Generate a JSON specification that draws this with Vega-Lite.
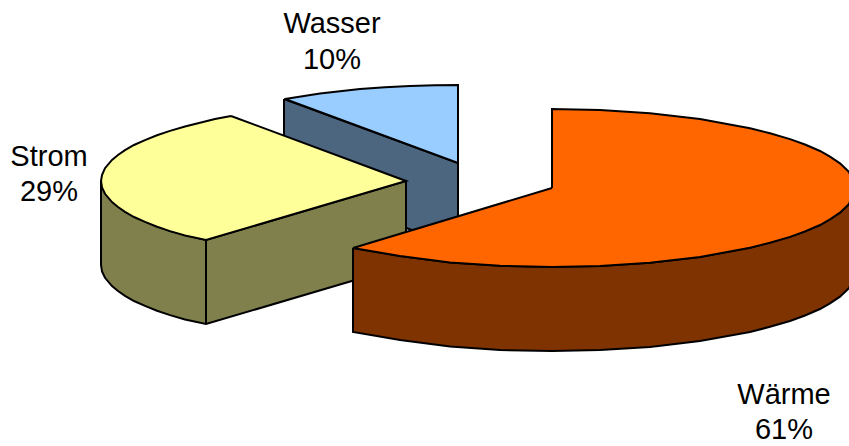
{
"$schema":"https://vega.github.io/schema/vega-lite/v6.json",
"width":849,"height":446,"autosize":{"type":"fit","contains":"padding"},"padding":0,
"background":"white","view":{"stroke":null},
"datasets":{
"shapes":[
{"part":"Wasser Seite","i":0,"x":284,"y":99},{"part":"Wasser Seite","i":1,"x":458,"y":163},{"part":"Wasser Seite","i":2,"x":458,"y":247},{"part":"Wasser Seite","i":3,"x":284,"y":183},{"part":"Wasser Seite","i":4,"x":284,"y":99},
{"part":"Wasser Oben","i":0,"x":285,"y":99},{"part":"Wasser Oben","i":1,"x":320,"y":93.5},{"part":"Wasser Oben","i":2,"x":360,"y":89.1},{"part":"Wasser Oben","i":3,"x":385,"y":87.3},{"part":"Wasser Oben","i":4,"x":410,"y":86},{"part":"Wasser Oben","i":5,"x":435,"y":85.2},{"part":"Wasser Oben","i":6,"x":458,"y":85},{"part":"Wasser Oben","i":7,"x":458,"y":163},{"part":"Wasser Oben","i":8,"x":285,"y":99},
{"part":"Strom Seite","i":0,"x":101,"y":181},{"part":"Strom Seite","i":1,"x":125,"y":211.8},{"part":"Strom Seite","i":2,"x":170,"y":231.1},{"part":"Strom Seite","i":3,"x":206,"y":240},{"part":"Strom Seite","i":4,"x":406,"y":181},{"part":"Strom Seite","i":5,"x":406,"y":265},{"part":"Strom Seite","i":6,"x":206,"y":324},{"part":"Strom Seite","i":7,"x":185,"y":319.5},{"part":"Strom Seite","i":8,"x":170,"y":315.1},{"part":"Strom Seite","i":9,"x":157,"y":310.8},{"part":"Strom Seite","i":10,"x":145,"y":305.9},{"part":"Strom Seite","i":11,"x":134,"y":301},{"part":"Strom Seite","i":12,"x":125,"y":295.8},{"part":"Strom Seite","i":13,"x":118,"y":291},{"part":"Strom Seite","i":14,"x":112,"y":286.1},{"part":"Strom Seite","i":15,"x":105,"y":277.8},{"part":"Strom Seite","i":16,"x":102,"y":271.5},{"part":"Strom Seite","i":17,"x":101,"y":265},{"part":"Strom Seite","i":18,"x":101,"y":181},
{"part":"Strom Kante","i":0,"x":206,"y":240},{"part":"Strom Kante","i":1,"x":206,"y":324},
{"part":"Strom Oben","i":0,"x":231,"y":116},{"part":"Strom Oben","i":1,"x":215,"y":119},{"part":"Strom Oben","i":2,"x":200,"y":122.7},{"part":"Strom Oben","i":3,"x":185,"y":126.5},{"part":"Strom Oben","i":4,"x":170,"y":130.9},{"part":"Strom Oben","i":5,"x":157,"y":135.2},{"part":"Strom Oben","i":6,"x":145,"y":140.1},{"part":"Strom Oben","i":7,"x":134,"y":145},{"part":"Strom Oben","i":8,"x":125,"y":150.2},{"part":"Strom Oben","i":9,"x":118,"y":155},{"part":"Strom Oben","i":10,"x":112,"y":159.9},{"part":"Strom Oben","i":11,"x":105,"y":168.2},{"part":"Strom Oben","i":12,"x":102,"y":175},{"part":"Strom Oben","i":13,"x":101,"y":181},{"part":"Strom Oben","i":14,"x":102,"y":187.5},{"part":"Strom Oben","i":15,"x":105,"y":193.8},{"part":"Strom Oben","i":16,"x":112,"y":202.1},{"part":"Strom Oben","i":17,"x":118,"y":207},{"part":"Strom Oben","i":18,"x":125,"y":211.8},{"part":"Strom Oben","i":19,"x":134,"y":217},{"part":"Strom Oben","i":20,"x":145,"y":221.9},{"part":"Strom Oben","i":21,"x":157,"y":226.8},{"part":"Strom Oben","i":22,"x":170,"y":231.1},{"part":"Strom Oben","i":23,"x":185,"y":235.5},{"part":"Strom Oben","i":24,"x":206,"y":240},{"part":"Strom Oben","i":25,"x":406,"y":181},{"part":"Strom Oben","i":26,"x":231,"y":116},
{"part":"Wärme Seite","i":0,"x":353,"y":248},{"part":"Wärme Seite","i":1,"x":400,"y":256},{"part":"Wärme Seite","i":2,"x":450,"y":262.4},{"part":"Wärme Seite","i":3,"x":500,"y":265.8},{"part":"Wärme Seite","i":4,"x":552,"y":267},{"part":"Wärme Seite","i":5,"x":600,"y":266},{"part":"Wärme Seite","i":6,"x":650,"y":262.8},{"part":"Wärme Seite","i":7,"x":700,"y":257},{"part":"Wärme Seite","i":8,"x":750,"y":247.8},{"part":"Wärme Seite","i":9,"x":790,"y":236.9},{"part":"Wärme Seite","i":10,"x":820,"y":225},{"part":"Wärme Seite","i":11,"x":840,"y":212.6},{"part":"Wärme Seite","i":12,"x":849,"y":204},{"part":"Wärme Seite","i":13,"x":855,"y":188},{"part":"Wärme Seite","i":14,"x":855,"y":272},{"part":"Wärme Seite","i":15,"x":849,"y":288},{"part":"Wärme Seite","i":16,"x":840,"y":296.6},{"part":"Wärme Seite","i":17,"x":830,"y":303.4},{"part":"Wärme Seite","i":18,"x":820,"y":309},{"part":"Wärme Seite","i":19,"x":805,"y":315.5},{"part":"Wärme Seite","i":20,"x":790,"y":321},{"part":"Wärme Seite","i":21,"x":770,"y":326.8},{"part":"Wärme Seite","i":22,"x":750,"y":332},{"part":"Wärme Seite","i":23,"x":700,"y":341},{"part":"Wärme Seite","i":24,"x":650,"y":347},{"part":"Wärme Seite","i":25,"x":600,"y":350},{"part":"Wärme Seite","i":26,"x":552,"y":351},{"part":"Wärme Seite","i":27,"x":500,"y":350},{"part":"Wärme Seite","i":28,"x":450,"y":346.4},{"part":"Wärme Seite","i":29,"x":400,"y":340},{"part":"Wärme Seite","i":30,"x":353,"y":332},{"part":"Wärme Seite","i":31,"x":353,"y":248},
{"part":"Wärme Oben","i":0,"x":552,"y":188},{"part":"Wärme Oben","i":1,"x":552,"y":109},{"part":"Wärme Oben","i":2,"x":600,"y":110},{"part":"Wärme Oben","i":3,"x":650,"y":113.2},{"part":"Wärme Oben","i":4,"x":700,"y":119},{"part":"Wärme Oben","i":5,"x":750,"y":128.2},{"part":"Wärme Oben","i":6,"x":770,"y":133.2},{"part":"Wärme Oben","i":7,"x":790,"y":139.1},{"part":"Wärme Oben","i":8,"x":805,"y":144.5},{"part":"Wärme Oben","i":9,"x":820,"y":151},{"part":"Wärme Oben","i":10,"x":830,"y":156.6},{"part":"Wärme Oben","i":11,"x":840,"y":163.4},{"part":"Wärme Oben","i":12,"x":849,"y":172},{"part":"Wärme Oben","i":13,"x":855,"y":188},{"part":"Wärme Oben","i":14,"x":849,"y":204},{"part":"Wärme Oben","i":15,"x":840,"y":212.6},{"part":"Wärme Oben","i":16,"x":830,"y":219.4},{"part":"Wärme Oben","i":17,"x":820,"y":225},{"part":"Wärme Oben","i":18,"x":805,"y":231.5},{"part":"Wärme Oben","i":19,"x":790,"y":236.9},{"part":"Wärme Oben","i":20,"x":770,"y":242.8},{"part":"Wärme Oben","i":21,"x":750,"y":247.8},{"part":"Wärme Oben","i":22,"x":700,"y":257},{"part":"Wärme Oben","i":23,"x":650,"y":262.8},{"part":"Wärme Oben","i":24,"x":600,"y":266},{"part":"Wärme Oben","i":25,"x":552,"y":267},{"part":"Wärme Oben","i":26,"x":500,"y":265.8},{"part":"Wärme Oben","i":27,"x":450,"y":262.4},{"part":"Wärme Oben","i":28,"x":400,"y":256},{"part":"Wärme Oben","i":29,"x":353,"y":248},{"part":"Wärme Oben","i":30,"x":552,"y":188}
],
"labels":[
{"text":"Wasser","x":332,"y":33},{"text":"10%","x":332,"y":69},
{"text":"Strom","x":49,"y":166},{"text":"29%","x":49,"y":201},
{"text":"Wärme","x":784,"y":404},{"text":"61%","x":784,"y":439}
]},
"layer":[
{"data":{"name":"shapes"},
"mark":{"type":"line","filled":true,"clip":true,"stroke":"black","strokeWidth":2,"strokeJoin":"miter"},
"encoding":{
"x":{"field":"x","type":"quantitative","scale":{"domain":[0,849]},"axis":null},
"y":{"field":"y","type":"quantitative","scale":{"domain":[446,0]},"axis":null},
"order":{"field":"i"},
"fill":{"field":"part","type":"nominal","legend":null,"scale":{"domain":["Wasser Seite","Wasser Oben","Strom Seite","Strom Kante","Strom Oben","Wärme Seite","Wärme Oben"],"range":["#4D6680","#99CCFF","#80804D","#80804D","#FFFF99","#7F3300","#FF6600"]}}
}},
{"data":{"name":"labels"},
"mark":{"type":"text","font":"Liberation Sans","fontSize":29,"color":"black","align":"center","baseline":"alphabetic"},
"encoding":{
"x":{"field":"x","type":"quantitative","scale":{"domain":[0,849]},"axis":null},
"y":{"field":"y","type":"quantitative","scale":{"domain":[446,0]},"axis":null},
"text":{"field":"text"}
}}
]}
